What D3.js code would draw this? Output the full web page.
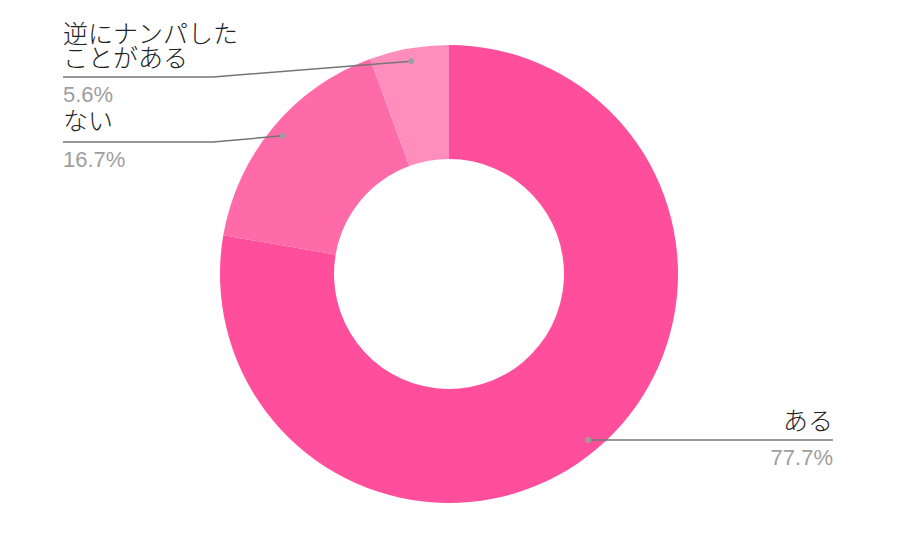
<!DOCTYPE html>
<html>
<head>
<meta charset="utf-8">
<script src="https://cdn.jsdelivr.net/npm/d3@7"></script>
<style>
  body { margin: 0; background: #fff; }
  .name { font-family: "Noto Sans CJK JP", sans-serif; font-weight: 300; }
  .pct { font-family: "Liberation Sans", Arial, sans-serif; }
</style>
</head>
<body>
<svg id="chart" width="900" height="548"></svg>
<script>
var labels = ["ある", "ない", "逆にナンパした\nことがある"];
var values = [77.7, 16.7, 5.6];
var colors = ["#ff4f9c", "#ff6aa8", "#ff8ebd"];

var width = 900, height = 548;
var cx = 449, cy = 274;
var outerR = 229, innerR = 115, dotR = 216;

const svg = d3.select("#chart");
const g = svg.append("g").attr("transform", "translate(" + cx + "," + cy + ")");

const pie = d3.pie().sort(null).value(d => d)(values);
const arc = d3.arc().innerRadius(innerR).outerRadius(outerR);
const dotArc = d3.arc().innerRadius(dotR).outerRadius(dotR);

g.selectAll("path")
  .data(pie)
  .enter().append("path")
  .attr("d", arc)
  .attr("fill", (d, i) => colors[i]);

// where each callout goes
var layout = [
  { lineY: 440, x: 833, anchor: "end", elbow: null, nameY: 430, pctY: 465 },
  { lineY: 142, x: 63, anchor: "start", elbow: 213, nameY: 130, pctY: 167 },
  { lineY: 77, x: 63, anchor: "start", elbow: 213, nameY: 67, pctY: 102 }
];

pie.forEach(function(d, i) {
  var c = dotArc.centroid(d);
  var px = cx + c[0], py = cy + c[1];
  var L = layout[i];
  var pts;
  if (L.anchor === "end") {
    pts = [[px, L.lineY], [L.x, L.lineY]];
  } else {
    pts = [[px, py], [L.elbow, L.lineY], [L.x, L.lineY]];
  }
  svg.append("path")
    .attr("d", d3.line()(pts))
    .attr("fill", "none")
    .attr("stroke", "#757575")
    .attr("stroke-width", 1.5);
  svg.append("circle")
    .attr("cx", px).attr("cy", L.anchor === "end" ? L.lineY : py)
    .attr("r", 3).attr("fill", "#9e9e9e");

  var lines = labels[i].split("\n");
  lines.forEach(function(t, j) {
    svg.append("text")
      .attr("class", "name")
      .attr("x", L.x)
      .attr("y", L.nameY - (lines.length - 1 - j) * 24)
      .attr("text-anchor", L.anchor)
      .attr("font-size", 25)
      .attr("fill", "#222")
      .text(t);
  });
  svg.append("text")
    .attr("class", "pct")
    .attr("x", L.x)
    .attr("y", L.pctY)
    .attr("text-anchor", L.anchor)
    .attr("font-size", 22)
    .attr("fill", "#9e9e9e")
    .text(values[i].toFixed(1) + "%");
});
</script>
</body>
</html>
